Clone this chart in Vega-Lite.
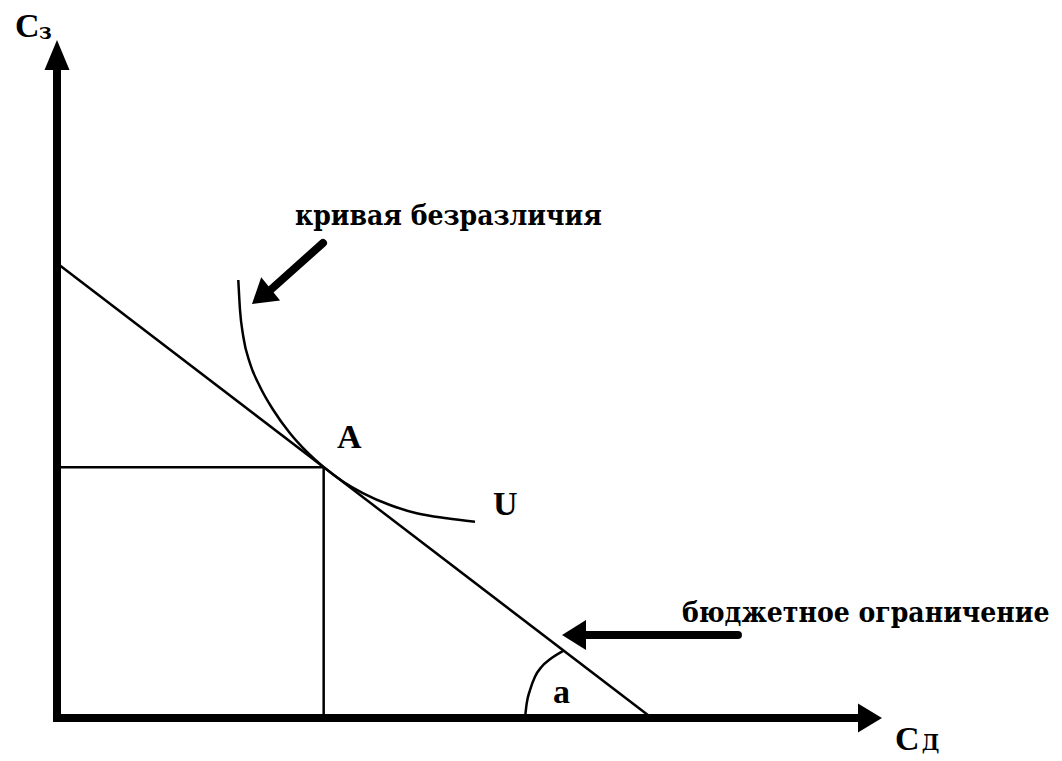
{
  "$schema": "https://vega.github.io/schema/vega-lite/v6.json",
  "width": 1062,
  "height": 761,
  "autosize": {"type": "none"},
  "padding": 0,
  "background": "white",
  "config": {"view": {"stroke": null}},
  "encoding": {
    "x": {"field": "x", "type": "quantitative", "scale": {"domain": [-1.261, 22.235], "nice": false, "zero": false}, "axis": null},
    "y": {"field": "y", "type": "quantitative", "scale": {"domain": [-0.951, 15.885], "nice": false, "zero": false}, "axis": null}
  },
  "layer": [
    {
      "data": {"values": [
        {"seg": "vertical axis", "x": 0, "y": 0},
        {"seg": "vertical axis", "x": 0, "y": 14.6},
        {"seg": "horizontal axis", "x": 0, "y": 0},
        {"seg": "horizontal axis", "x": 17.8, "y": 0}
      ]},
      "mark": {"type": "line", "color": "black", "strokeWidth": 8, "strokeCap": "square"},
      "encoding": {"detail": {"field": "seg"}}
    },
    {
      "data": {"values": [
        {"seg": "budget", "x": 0, "y": 10.06},
        {"seg": "budget", "x": 13.16, "y": 0},
        {"seg": "h", "x": 0, "y": 5.55},
        {"seg": "h", "x": 5.9, "y": 5.55},
        {"seg": "v", "x": 5.9, "y": 5.55},
        {"seg": "v", "x": 5.9, "y": 0}
      ]},
      "mark": {"type": "line", "color": "black", "strokeWidth": 2.5},
      "encoding": {"detail": {"field": "seg"}}
    },
    {
      "data": {"values": [
        {"x": 4.011, "y": 9.69},
        {"x": 4.049, "y": 9.027},
        {"x": 4.122, "y": 8.436},
        {"x": 4.27, "y": 7.847},
        {"x": 4.491, "y": 7.33},
        {"x": 4.785, "y": 6.814},
        {"x": 5.155, "y": 6.299},
        {"x": 5.524, "y": 5.892},
        {"x": 5.9, "y": 5.55},
        {"x": 6.334, "y": 5.228},
        {"x": 6.777, "y": 4.971},
        {"x": 7.367, "y": 4.712},
        {"x": 7.958, "y": 4.529},
        {"x": 8.622, "y": 4.418},
        {"x": 9.248, "y": 4.343}
      ]},
      "mark": {"type": "line", "color": "black", "strokeWidth": 2.5, "interpolate": "monotone"},
      "encoding": {}
    },
    {
      "data": {"values": [
        {"x": 10.354, "y": 0},
        {"x": 10.392, "y": 0.325},
        {"x": 10.465, "y": 0.619},
        {"x": 10.575, "y": 0.914},
        {"x": 10.723, "y": 1.135},
        {"x": 10.907, "y": 1.299},
        {"x": 11.19, "y": 1.48}
      ]},
      "mark": {"type": "line", "color": "black", "strokeWidth": 2.5, "interpolate": "monotone"},
      "encoding": {}
    },
    {
      "data": {"values": [
        {"seg": "to curve", "x": 5.885, "y": 10.509},
        {"seg": "to curve", "x": 4.7, "y": 9.45},
        {"seg": "to budget", "x": 15.066, "y": 1.836},
        {"seg": "to budget", "x": 11.7, "y": 1.836}
      ]},
      "mark": {"type": "line", "color": "black", "strokeWidth": 8, "strokeCap": "round"},
      "encoding": {"detail": {"field": "seg"}}
    },
    {
      "data": {"values": [{"x": 0, "y": 15.0}]},
      "mark": {"type": "point", "shape": "M0,0 L-1.25,3 L1.25,3 Z", "size": 400, "filled": true, "color": "black", "opacity": 1, "strokeWidth": 0, "angle": 0},
      "encoding": {}
    },
    {
      "data": {"values": [{"x": 18.252, "y": 0}]},
      "mark": {"type": "point", "shape": "M0,0 L-1.45,2.4 L1.45,2.4 Z", "size": 400, "filled": true, "color": "black", "opacity": 1, "strokeWidth": 0, "angle": 90},
      "encoding": {}
    },
    {
      "data": {"values": [{"x": 11.173, "y": 1.836}]},
      "mark": {"type": "point", "shape": "M0,0 L-1.5,2.4 L1.5,2.4 Z", "size": 400, "filled": true, "color": "black", "opacity": 1, "strokeWidth": 0, "angle": 270},
      "encoding": {}
    },
    {
      "data": {"values": [{"x": 4.314, "y": 9.159}]},
      "mark": {"type": "point", "shape": "M0,0 L-1.5,2.4 L1.5,2.4 Z", "size": 400, "filled": true, "color": "black", "opacity": 1, "strokeWidth": 0, "angle": 231},
      "encoding": {}
    },
    {
      "data": {"values": [
        {"label": "кривая безразличия", "x": 5.265, "y": 10.907},
        {"label": "бюджетное ограничение", "x": 13.827, "y": 2.124}
      ]},
      "mark": {"type": "text", "align": "left", "baseline": "alphabetic", "font": "'DejaVu Serif Condensed', 'DejaVu Serif', serif", "fontWeight": "bold", "fontSize": 28, "color": "black"},
      "encoding": {"text": {"field": "label"}}
    },
    {
      "data": {"values": [
        {"label": "A", "x": 6.195, "y": 5.973},
        {"label": "U", "x": 9.646, "y": 4.491},
        {"label": "a", "x": 10.973, "y": 0.332},
        {"label": "С", "x": -0.929, "y": 15.066},
        {"label": "С", "x": 18.54, "y": -0.708}
      ]},
      "mark": {"type": "text", "align": "left", "baseline": "alphabetic", "font": "'Liberation Serif', 'DejaVu Serif', serif", "fontWeight": "bold", "fontSize": 34, "color": "black"},
      "encoding": {"text": {"field": "label"}}
    },
    {
      "data": {"values": [
        {"label": "з", "x": -0.398, "y": 15.022},
        {"label": "Д", "x": 19.13, "y": -0.708}
      ]},
      "mark": {"type": "text", "align": "left", "baseline": "alphabetic", "font": "'DejaVu Serif Condensed', 'DejaVu Serif', serif", "fontWeight": "bold", "fontSize": 22, "color": "black"},
      "encoding": {"text": {"field": "label"}}
    }
  ]
}
